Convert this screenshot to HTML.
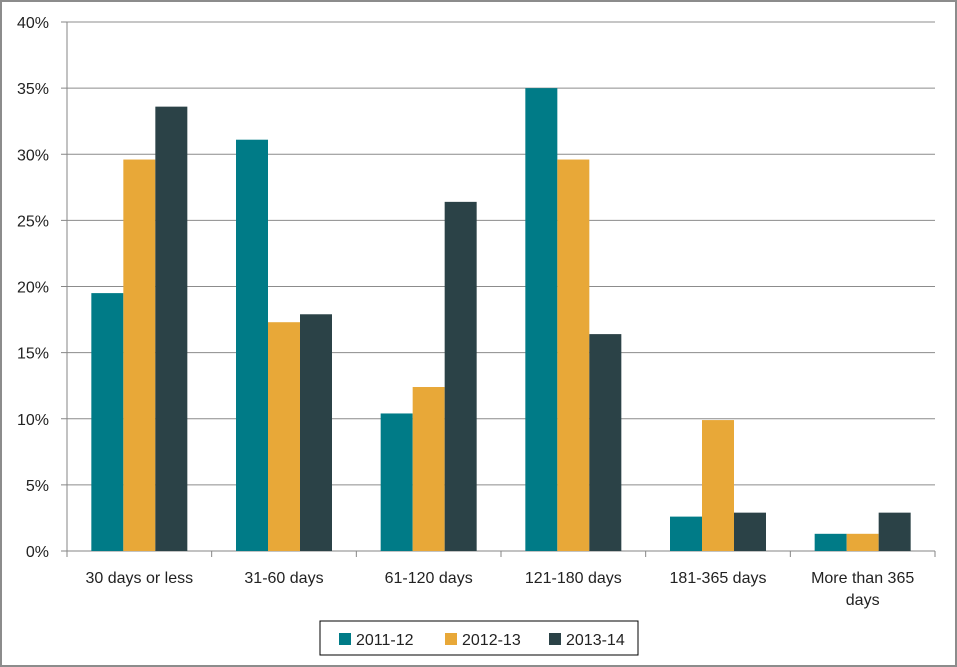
<!DOCTYPE html>
<html><head><meta charset="utf-8"><style>
html,body{margin:0;padding:0;background:#fff}
svg{display:block;font-family:"Liberation Sans",sans-serif}
</style></head><body>
<svg id="c" width="957" height="667">
<rect x="1" y="1" width="955" height="665" fill="#fff" stroke="#8c8c8c" stroke-width="2"/>
<g id="grid"></g>
<g id="bars"></g>
<g id="axes"></g>
<g>
<rect x="320" y="621" width="318" height="34" fill="#fff" stroke="#000" stroke-width="1"/>
<g id="legend"></g>
</g>
</svg>
<script>
const categories=["30 days or less","31-60 days","61-120 days","121-180 days","181-365 days","More than 365 days"];
const series=["2011-12","2012-13","2013-14"];
const s2011=[19.5,31.1,10.4,35.0,2.6,1.3];
const s2012=[29.6,17.3,12.4,29.6,9.9,1.3];
const s2013=[33.6,17.9,26.4,16.4,2.9,2.9];
const yTicks=[0,5,10,15,20,25,30,35,40];
const colors=["#007b87","#e8a838","#2b4247"];
const data=[s2011,s2012,s2013];
const NS="http://www.w3.org/2000/svg";
const X0=67,X1=935,Y0=551,Y1=22,YMAX=40;
const y=v=>Y0-(v/YMAX)*(Y0-Y1);
const gw=(X1-X0)/categories.length;
const bw=32;
function mk(tag,attrs,parent){const e=document.createElementNS(NS,tag);for(const k in attrs)e.setAttribute(k,attrs[k]);parent.appendChild(e);return e;}
const grid=document.getElementById('grid'),axes=document.getElementById('axes'),bars=document.getElementById('bars'),leg=document.getElementById('legend');
yTicks.forEach(t=>{
  const l=mk('line',{x1:X0,x2:X1,y1:y(t),y2:y(t),stroke:t===0?'#868686':'#8c8c8c','stroke-width':1},grid);
  
  
  const tk=mk('line',{x1:X0-6,x2:X0,y1:y(t),y2:y(t),stroke:'#868686'},axes);
  
  
  const tx=mk('text',{x:X0-18,y:y(t)+6,'text-anchor':'end','font-size':16,fill:'#222'},axes);
  tx.textContent=t+'%';
  
  
});
const ya=mk('line',{x1:X0,x2:X0,y1:Y1,y2:Y0,stroke:'#868686'},axes);


for(let i=0;i<=categories.length;i++){
  const xx=X0+i*gw;
  const tk=mk('line',{x1:xx,x2:xx,y1:Y0,y2:Y0+6,stroke:'#868686'},axes);
  
  
}
categories.forEach((c,i)=>{
  const cx=X0+(i+0.5)*gw;
  data.forEach((s,j)=>{
    const bx=cx-1.5*bw+j*bw;
    const r=mk('rect',{x:bx,y:y(s[i]),width:bw,height:Y0-y(s[i]),fill:colors[j]},bars);
    
    
  });
  const lines=c==="More than 365 days"?["More than 365","days"]:[c];
  lines.forEach((ln,k)=>{
    const t=mk('text',{x:cx,y:583+k*22,'text-anchor':'middle','font-size':16,fill:'#222'},axes);
    t.textContent=ln;
    
    
  });
});
const lx=[339,445,549];
series.forEach((s,j)=>{
  const r=mk('rect',{x:lx[j],y:633,width:12,height:12,fill:colors[j]},leg);
  
  
  const t=mk('text',{x:lx[j]+17,y:645,'font-size':16,fill:'#222'},leg);
  t.textContent=s;
  
  
});
</script>
</body></html>
